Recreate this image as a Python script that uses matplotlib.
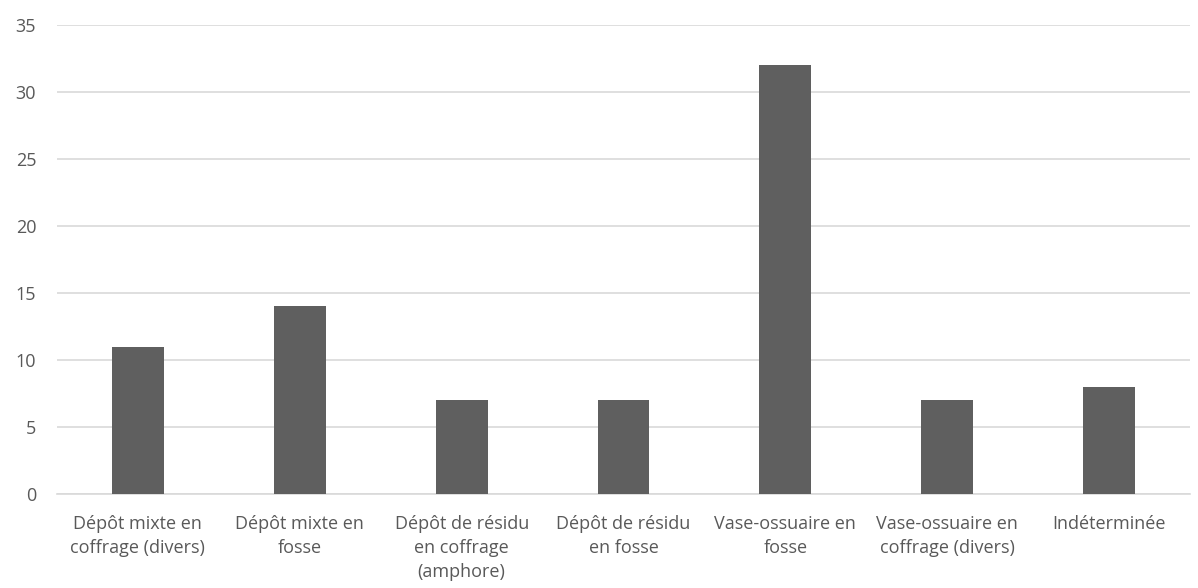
import matplotlib.pyplot as plt
import numpy as np

categories = [
    'Dépôt mixte en\ncoffrage (divers)',
    'Dépôt mixte en\nfosse',
    'Dépôt de résidu\nen coffrage\n(amphore)',
    'Dépôt de résidu\nen fosse',
    'Vase-ossuaire en\nfosse',
    'Vase-ossuaire en\ncoffrage (divers)',
    'Indéterminée',
]
values = [11, 14, 7, 7, 32, 7, 8]
yticks = [0, 5, 10, 15, 20, 25, 30, 35]

plt.rcParams['font.family'] = ['Open Sans', 'DejaVu Sans']

fig = plt.figure(figsize=(11.98, 5.88), dpi=100)
ax = fig.add_axes([57 / 1198, 1 - 494 / 588, (1190 - 57) / 1198, (494 - 25) / 588])

x = np.arange(len(categories))
ax.bar(x, values, width=0.32, color='#5f5f5f', zorder=3)

ax.set_xlim(-0.5, len(categories) - 0.5)
ax.set_ylim(0, 35)
ax.set_yticks(yticks)
ax.set_xticks(x)
ax.set_xticklabels(categories, fontsize=13, color='#595959', linespacing=1.45)
ax.tick_params(axis='y', labelsize=13, labelcolor='#595959', length=0, pad=15)
ax.tick_params(axis='x', length=0, pad=15)
ax.grid(axis='y', color='#d9d9d9', linewidth=1.2, zorder=0)
for s in ['top', 'right', 'left']:
    ax.spines[s].set_visible(False)
ax.spines['bottom'].set_color('#d9d9d9')
ax.spines['bottom'].set_linewidth(1.2)

fig.savefig('out.png', dpi=100)
